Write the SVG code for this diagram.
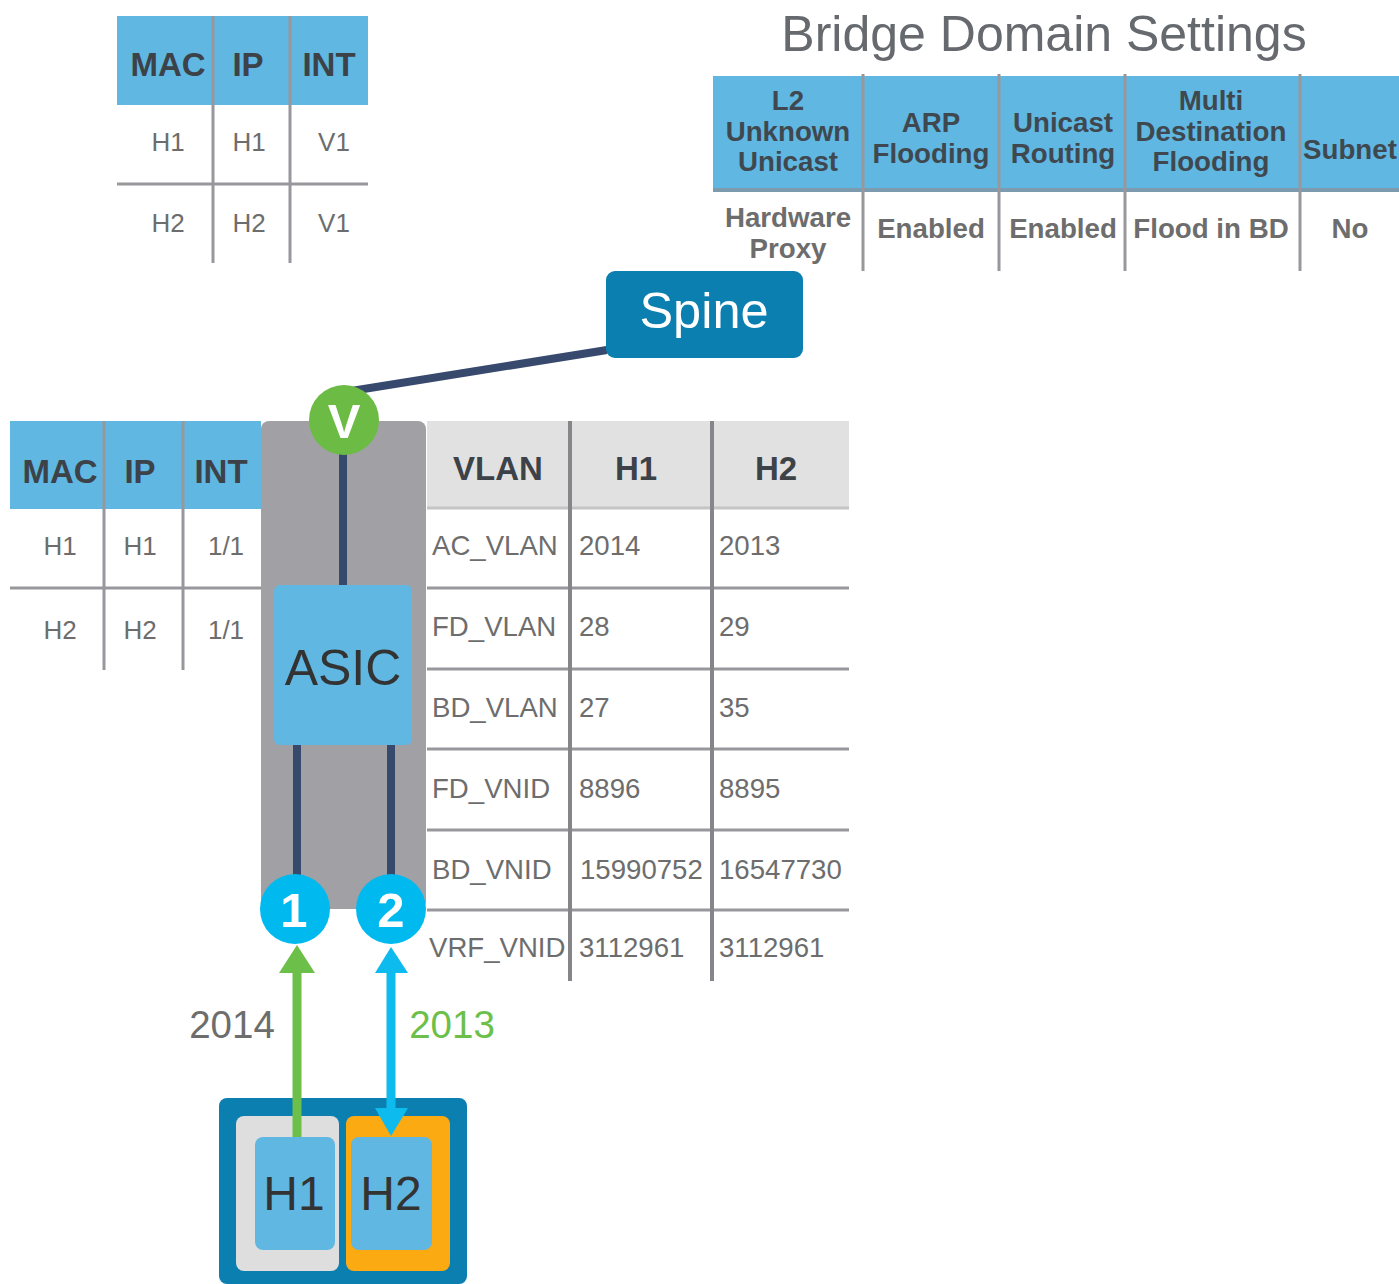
<svg xmlns="http://www.w3.org/2000/svg" width="1399" height="1284" viewBox="0 0 1399 1284">
<style>
text{font-family:"Liberation Sans",Arial,sans-serif;text-anchor:middle}
.hb{fill:#5fb7e2}
.hg{fill:#e1e1e1}
.hl{stroke:#7d9bae;stroke-width:4;fill:none}
.hl2{stroke:#c4c4c4;stroke-width:3;fill:none}
.h{font-weight:bold;fill:#3c4248;font-size:33px}
.h2{font-weight:bold;fill:#40484f;font-size:27.7px}
.c{fill:#6d6d6d;font-size:26px}
.v{fill:#6d6d6d;font-size:27.6px;text-anchor:start}
.cb{fill:#6d6d6d;font-size:27.7px;font-weight:bold}
.g{stroke:#98989c;stroke-width:3;fill:none}
.gd{stroke:#85858a;stroke-width:4;fill:none}
.wire{stroke:#37496c;stroke-width:8;fill:none}
</style>
<rect width="1399" height="1284" fill="#fff"/>
<g id="mac-table-top">
<rect class="hb" x="117" y="16" width="251" height="89"/>
<path class="g" d="M117 184H368M213 16V263M290 16V263"/>
<text class="h" x="168" y="76">MAC</text><text class="h" x="248" y="76">IP</text><text class="h" x="329" y="76">INT</text>
<text class="c" x="168" y="151">H1</text><text class="c" x="249" y="151">H1</text><text class="c" x="334" y="151">V1</text>
<text class="c" x="168" y="232">H2</text><text class="c" x="249" y="232">H2</text><text class="c" x="334" y="232">V1</text>
</g>
<g id="bd-settings">
<text x="1044" y="51" font-size="50" fill="#666a6e">Bridge Domain Settings</text>
<rect class="hb" x="713" y="76" width="686" height="114"/>
<path class="hl" d="M713 190H1399"/>
<path class="g" d="M863 74V271M999 74V271M1125 74V271M1300 74V271"/>
<text class="h2" x="788" y="110">L2</text><text class="h2" x="788" y="141">Unknown</text><text class="h2" x="788" y="171">Unicast</text>
<text class="h2" x="931" y="132">ARP</text><text class="h2" x="931" y="163">Flooding</text>
<text class="h2" x="1063" y="132">Unicast</text><text class="h2" x="1063" y="163">Routing</text>
<text class="h2" x="1211" y="110">Multi</text><text class="h2" x="1211" y="141">Destination</text><text class="h2" x="1211" y="171">Flooding</text>
<text class="h2" x="1350" y="159">Subnet</text>
<text class="cb" x="788" y="227">Hardware</text><text class="cb" x="788" y="258">Proxy</text>
<text class="cb" x="931" y="238">Enabled</text><text class="cb" x="1063" y="238">Enabled</text><text class="cb" x="1211" y="238">Flood in BD</text><text class="cb" x="1350" y="238">No</text>
</g>
<g id="leaf">
<rect x="261" y="421" width="165" height="488" rx="8" fill="#a0a0a5"/>
</g>
<g id="hosts">
<rect x="219" y="1098" width="248" height="186" rx="8" fill="#0a7fb0"/>
<rect x="236" y="1116" width="103" height="155" rx="8" fill="#dedede"/>
<rect x="346" y="1116" width="104" height="155" rx="8" fill="#fbaa12"/>
<rect x="255" y="1137" width="80" height="113" rx="8" fill="#5fb7e2"/>
<rect x="351" y="1137" width="81" height="113" rx="8" fill="#5fb7e2"/>
<text x="294" y="1210" font-size="48" fill="#333">H1</text>
<text x="391" y="1210" font-size="48" fill="#333">H2</text>
</g>
<g id="connectors">
<path class="wire" d="M607 350L345 392"/>
<path class="wire" d="M343 450V590M297 740V880M391 740V880"/>
<path d="M297 1137V970" stroke="#6cc04a" stroke-width="9"/>
<path d="M279 973L297 945L315 973Z" fill="#6cc04a"/>
<path d="M391 1112V970" stroke="#0ebbee" stroke-width="9"/>
<path d="M375 973L391 947L408 973Z" fill="#0ebbee"/>
<path d="M375 1108L408 1108L391 1136Z" fill="#0ebbee"/>
</g>
<g id="spine">
<rect x="606" y="271" width="197" height="87" rx="9" fill="#0a7fb0"/>
<text x="704" y="328" font-size="50.5" fill="#fff">Spine</text>
</g>
<g id="vtep">
<circle cx="344" cy="420" r="35" fill="#6cbb45"/>
<text x="344" y="438" font-size="49" font-weight="bold" fill="#fff">V</text>
</g>
<g id="asic">
<rect x="274" y="585" width="138" height="160" rx="6" fill="#5fb7e2"/>
<text x="343" y="685" font-size="50" fill="#333">ASIC</text>
</g>
<g id="mac-table-leaf">
<rect class="hb" x="10" y="421" width="251" height="88"/>
<path class="g" d="M10 588H261M104 421V670M183 421V670"/>
<text class="h" x="60" y="483">MAC</text><text class="h" x="140" y="483">IP</text><text class="h" x="221" y="483">INT</text>
<text class="c" x="60" y="555">H1</text><text class="c" x="140" y="555">H1</text><text class="c" x="226" y="555">1/1</text>
<text class="c" x="60" y="639">H2</text><text class="c" x="140" y="639">H2</text><text class="c" x="226" y="639">1/1</text>
</g>
<g id="vlan-table">
<rect class="hg" x="427" y="421" width="422" height="87"/>
<path class="hl2" d="M427 508H849"/>
<path class="g" d="M427 588H849M427 669H849M427 749H849M427 830H849M427 910H849"/>
<path class="gd" d="M570 421V981M712 421V981"/>
<text class="h" x="498" y="480">VLAN</text><text class="h" x="636" y="480">H1</text><text class="h" x="776" y="480">H2</text>
<text class="v" x="432" y="555">AC_VLAN</text><text class="v" x="579" y="555">2014</text><text class="v" x="719" y="555">2013</text>
<text class="v" x="432" y="636">FD_VLAN</text><text class="v" x="579" y="636">28</text><text class="v" x="719" y="636">29</text>
<text class="v" x="432" y="717">BD_VLAN</text><text class="v" x="579" y="717">27</text><text class="v" x="719" y="717">35</text>
<text class="v" x="432" y="798">FD_VNID</text><text class="v" x="579" y="798">8896</text><text class="v" x="719" y="798">8895</text>
<text class="v" x="432" y="879">BD_VNID</text><text class="v" x="580" y="879">15990752</text><text class="v" x="719" y="879">16547730</text>
<text class="v" x="429" y="957">VRF_VNID</text><text class="v" x="579" y="957">3112961</text><text class="v" x="719" y="957">3112961</text>
</g>
<g id="vlan-labels">
<text x="232" y="1038" font-size="38.5" fill="#6d6d6d">2014</text>
<text x="452" y="1038" font-size="38.5" fill="#6cc04a">2013</text>
</g>
<g id="port-1">
<circle cx="295" cy="909" r="35" fill="#00b9ee"/>
<text x="294" y="927" font-size="49" font-weight="bold" fill="#fff">1</text>
</g>
<g id="port-2">
<circle cx="391" cy="909" r="35" fill="#00b9ee"/>
<text x="391" y="927" font-size="49" font-weight="bold" fill="#fff">2</text>
</g>
</svg>
